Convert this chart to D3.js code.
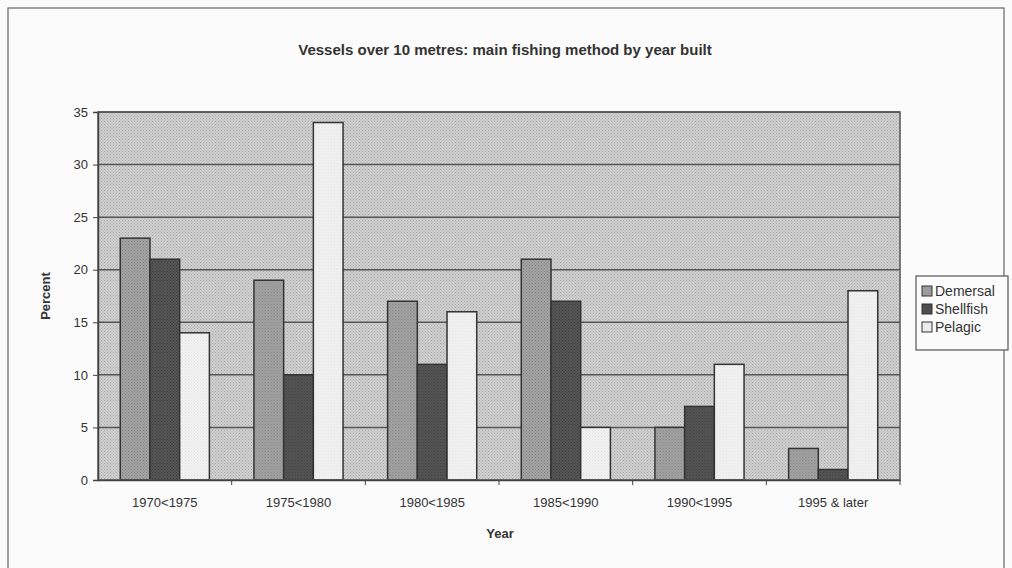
<!DOCTYPE html>
<html>
<head>
<meta charset="utf-8">
<script src="https://cdn.jsdelivr.net/npm/d3@7"></script>
<style>
  body { margin: 0; background: #fbfbfb; }
  svg { display: block; font-family: "Liberation Sans", Arial, sans-serif; }
</style>
</head>
<body>
<div id="chart"></div>
<script>
const categories = ['1970<1975', '1975<1980', '1980<1985', '1985<1990', '1990<1995', '1995 & later'];
const seriesNames = ['Demersal', 'Shellfish', 'Pelagic'];
const demersal = [23, 19, 17, 21, 5, 3];
const shellfish = [21, 10, 11, 17, 7, 1];
const pelagic = [14, 34, 16, 5, 11, 18];
const yTicks = [0, 5, 10, 15, 20, 25, 30, 35];

const seriesValues = [demersal, shellfish, pelagic];
const colors = ['#9c9c9c', '#4e4e4e', '#ececec'];

const width = 1012, height = 568;
const margin = { left: 98, right: 112, top: 112, bottom: 88 };
const chartWidth = width - margin.left - margin.right;
const chartHeight = height - margin.top - margin.bottom;

const svg = d3.select('#chart').append('svg')
    .attr('width', width)
    .attr('height', height);

// stipple patterns to mimic the printed look
const defs = svg.append('defs');
function stipple(id, base, dot) {
    const p = defs.append('pattern')
        .attr('id', id)
        .attr('width', 3).attr('height', 3)
        .attr('patternUnits', 'userSpaceOnUse');
    p.append('rect').attr('width', 3).attr('height', 3).attr('fill', base);
    p.append('rect').attr('width', 1).attr('height', 1).attr('fill', dot);
    p.append('rect').attr('x', 1.5).attr('y', 1.5).attr('width', 1).attr('height', 1).attr('fill', dot);
}
stipple('bgPat', '#d0d0d0', '#a8a8a8');
stipple('dPat', '#a4a4a4', '#808080');
stipple('sPat', '#565656', '#3a3a3a');
stipple('pPat', '#f2f2f2', '#e2e2e2');
const fills = ['url(#dPat)', 'url(#sPat)', 'url(#pPat)'];

// outer frame
svg.append('rect')
    .attr('x', 8).attr('y', 8)
    .attr('width', 996).attr('height', 570)
    .attr('fill', 'none')
    .attr('stroke', '#666')
    .attr('stroke-width', 1.2);

svg.append('text')
    .attr('x', 505).attr('y', 55)
    .attr('text-anchor', 'middle')
    .style('font-size', '15px')
    .style('font-weight', 'bold')
    .attr('fill', '#333')
    .text('Vessels over 10 metres: main fishing method by year built');

const g = svg.append('g')
    .attr('transform', `translate(${margin.left},${margin.top})`);

const x0 = d3.scaleBand()
    .domain(categories)
    .range([0, chartWidth])
    .paddingInner(0)
    .paddingOuter(0);

const x1 = d3.scaleBand()
    .domain(seriesNames)
    .range([0, x0.bandwidth()])
    .paddingInner(0)
    .paddingOuter(0.75);

const y = d3.scaleLinear()
    .domain([0, 35])
    .range([chartHeight, 0]);

g.append('rect')
    .attr('width', chartWidth)
    .attr('height', chartHeight)
    .attr('fill', 'url(#bgPat)');

g.selectAll('.grid')
    .data(yTicks.slice(1))
    .enter()
    .append('line')
    .attr('x1', 0).attr('x2', chartWidth)
    .attr('y1', d => y(d)).attr('y2', d => y(d))
    .attr('stroke', '#555')
    .attr('stroke-width', 1.5);

const groups = g.selectAll('.grp')
    .data(categories)
    .enter()
    .append('g')
    .attr('transform', d => `translate(${x0(d)},0)`);

groups.selectAll('rect')
    .data((d, i) => seriesNames.map((s, j) => ({ s, j, v: seriesValues[j][i] })))
    .enter()
    .append('rect')
    .attr('x', d => x1(d.s))
    .attr('y', d => y(d.v))
    .attr('width', x1.bandwidth())
    .attr('height', d => y(0) - y(d.v))
    .attr('fill', d => fills[d.j])
    .attr('stroke', '#333')
    .attr('stroke-width', 1.5);

g.append('rect')
    .attr('width', chartWidth)
    .attr('height', chartHeight)
    .attr('fill', 'none')
    .attr('stroke', '#555')
    .attr('stroke-width', 1.5);

const yAxis = d3.axisLeft(y)
    .tickValues(yTicks)
    .tickSize(5)
    .tickPadding(5);

const yG = g.append('g').call(yAxis);
yG.select('.domain').attr('stroke', '#444').attr('stroke-width', 1.5);
yG.selectAll('line').attr('stroke', '#444');
yG.selectAll('text').style('font-size', '13px').attr('fill', '#333');

const xAxis = d3.axisBottom(x0)
    .tickSize(0)
    .tickPadding(18);

const xG = g.append('g')
    .attr('transform', `translate(0,${chartHeight})`)
    .call(xAxis);
xG.select('.domain').attr('stroke', '#444').attr('stroke-width', 1.5);
xG.selectAll('text').style('font-size', '13px').attr('fill', '#333');

// category separator ticks below axis
xG.selectAll('.sep')
    .data(categories.slice(1).concat(['end']))
    .enter()
    .append('line')
    .attr('x1', (d, i) => i < categories.length - 1 ? x0(d) : chartWidth)
    .attr('x2', (d, i) => i < categories.length - 1 ? x0(d) : chartWidth)
    .attr('y1', 0).attr('y2', 5)
    .attr('stroke', '#444');

svg.append('text')
    .attr('transform', 'translate(50,296) rotate(-90)')
    .attr('text-anchor', 'middle')
    .style('font-size', '13px')
    .style('font-weight', 'bold')
    .attr('fill', '#333')
    .text('Percent');

svg.append('text')
    .attr('x', 500).attr('y', 538)
    .attr('text-anchor', 'middle')
    .style('font-size', '13px')
    .style('font-weight', 'bold')
    .attr('fill', '#333')
    .text('Year');

// legend
const legend = svg.append('g').attr('transform', 'translate(916,276)');
legend.append('rect')
    .attr('width', 92).attr('height', 74)
    .attr('fill', '#fbfbfb')
    .attr('stroke', '#555')
    .attr('stroke-width', 1.2);

const items = legend.selectAll('.item')
    .data(seriesNames)
    .enter()
    .append('g')
    .attr('transform', (d, i) => `translate(6,${20 + i * 18})`);

items.append('rect')
    .attr('x', 0).attr('y', -10)
    .attr('width', 10).attr('height', 10)
    .attr('fill', (d, i) => colors[i])
    .attr('stroke', '#333');

items.append('text')
    .attr('x', 13).attr('y', 0)
    .style('font-size', '14px')
    .attr('fill', '#333')
    .text(d => d);
</script>
</body>
</html>
